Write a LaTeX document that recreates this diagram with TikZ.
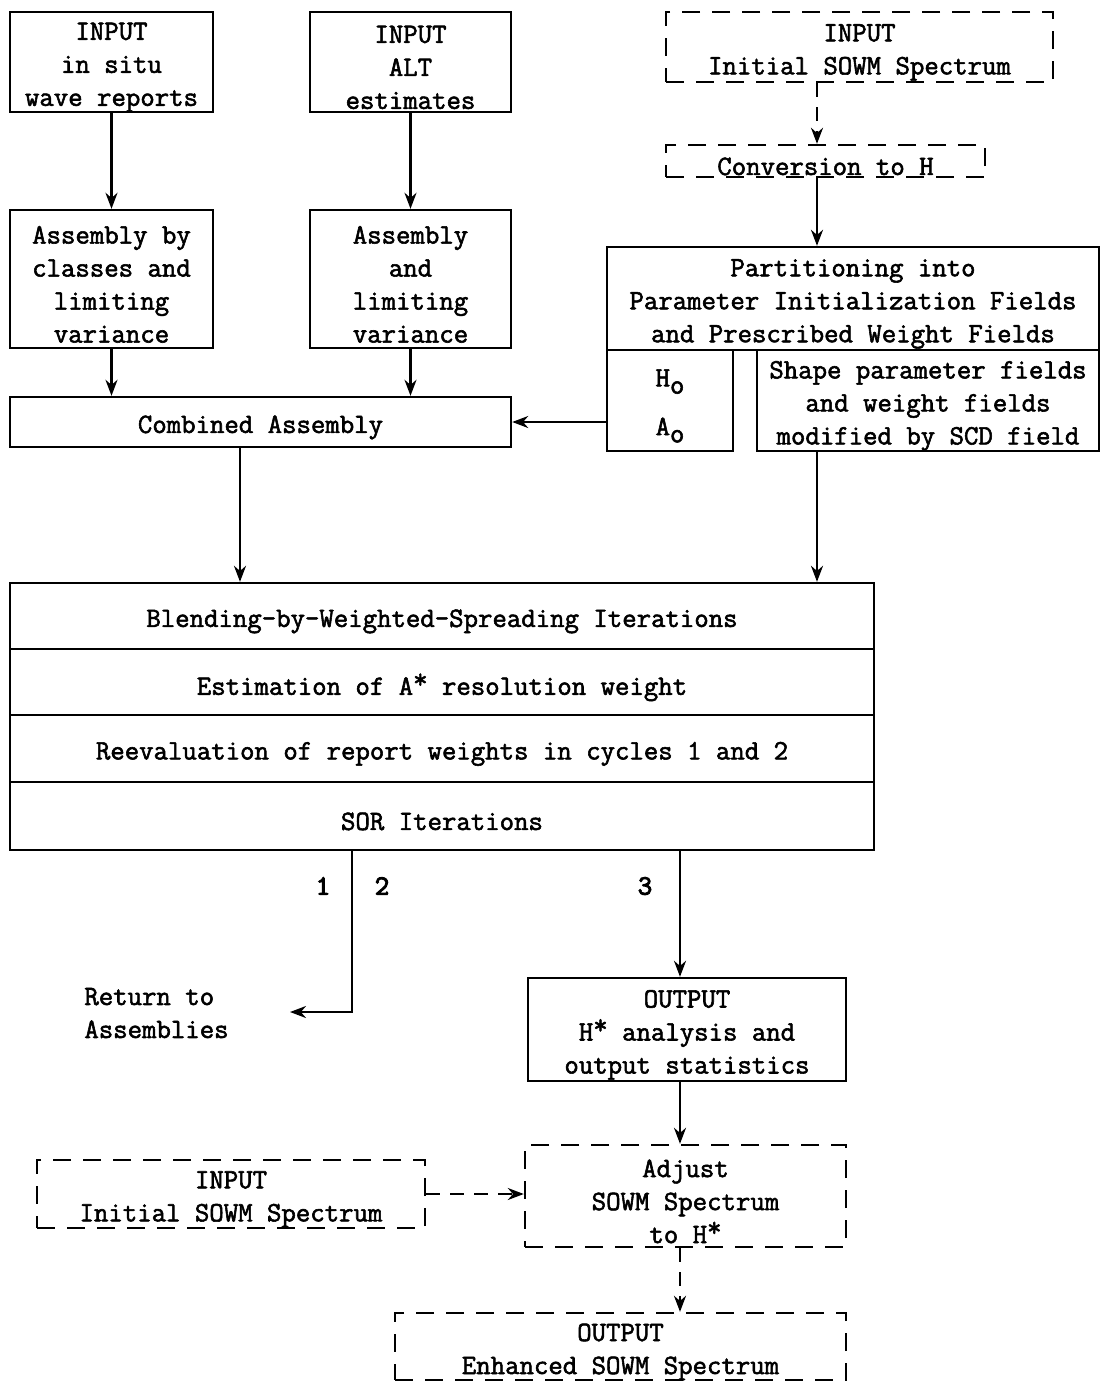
\documentclass[tikz,border=0pt]{standalone}
\usepackage{fontspec}
\setmainfont{Latin Modern Mono}[FakeBold=2]
\newfontfamily\numfont{Latin Modern Mono}[FakeBold=3.5]
\usetikzlibrary{arrows.meta}
\newcommand{\st}{\raisebox{0.55ex}{*}}
\tikzset{
  box/.style={draw, line width=1.2pt, inner sep=0pt},
  dbox/.style={box, dash pattern=on 9pt off 6pt},
  txt/.style={inner sep=0pt, align=center, yshift=-2.7pt, font=\fontsize{14}{16.5}\selectfont},
  arr/.style={line width=1.2pt, -{Stealth[length=8pt,width=6pt]}},
  darr/.style={arr, dash pattern=on 7pt off 5pt},
  plain/.style={inner sep=0pt, font=\fontsize{14}{16.5}\selectfont},
  num/.style={inner sep=0pt, font=\fontsize{14}{15}\numfont},
  sz/.style 2 args={minimum width=#1*0.5pt, minimum height=#2*0.5pt}
}
\begin{document}
\begin{tikzpicture}[x=0.5pt,y=-0.5pt]
\useasboundingbox (0,0) rectangle (1101,1383);
\fill[white] (0,0) rectangle (1101,1383);
% inputs
\node[box, sz={203}{100}, label={[txt]center:{INPUT\\in situ\\wave reports}}] (ina) at (111.5,62) {};
\node[box, sz={201}{100}, label={[txt]center:{INPUT\\ALT\\estimates}}] (inb) at (410.5,62) {};
\node[dbox, sz={387}{70}, label={[txt]center:{INPUT\\Initial SOWM Spectrum}}] (inc) at (859.5,47) {};
\node[dbox, sz={319}{32}, label={[txt]center:{Conversion to H}}] (conv) at (825.5,161) {};
\coordinate (xr) at (817,0);
% assemblies
\node[box, sz={203}{138}, label={[txt]center:{Assembly by\\classes and\\limiting\\variance}}] (asa) at (111.5,279) {};
\node[box, sz={201}{138}, label={[txt]center:{Assembly\\and\\limiting\\variance}}] (asb) at (410.5,279) {};
\node[box, sz={501}{50}, label={[txt]center:{Combined Assembly}}] (comb) at (260.5,422) {};
% partition
\node[box, sz={492}{103}, label={[txt]center:{Partitioning into\\Parameter Initialization Fields\\and Prescribed Weight Fields}}] (part) at (853,298.5) {};
\node[box, sz={126}{101}, label={[txt]center:{H\raisebox{-0.6ex}{o}\\[1.3ex]A\raisebox{-0.6ex}{o}}}] (ha) at (670,400.5) {};
\node[box, sz={342}{101}, label={[txt]center:{Shape parameter fields\\and weight fields\\modified by SCD field}}] (shape) at (928,400.5) {};
% big box
\node[box, sz={864}{66}, label={[txt]center:{Blending-by-Weighted-Spreading Iterations}}] (r1) at (442,616) {};
\node[box, sz={864}{66}, label={[txt]center:{Estimation of A\st{} resolution weight}}] (r2) at (442,682) {};
\node[box, sz={864}{67}, label={[txt]center:{Reevaluation of report weights in cycles 1 and 2}}] (r3) at (442,748.5) {};
\node[box, sz={864}{68}, label={[txt]center:{SOR Iterations}}] (r4) at (442,816) {};
% outputs
\node[plain, anchor=west, align=left] (ret) at (84,1013) {Return to\\Assemblies};
\coordinate (retend) at (290,1012);
\coordinate (x1) at (352,0);
\coordinate (x3) at (680,0);
\node[num] (n1) at (323,886) {1};
\node[num] (n2) at (382,886) {2};
\node[num] (n3) at (645,886) {3};
\node[box, sz={318}{103}, label={[txt]center:{OUTPUT\\H\st{} analysis and\\output statistics}}] (out) at (687,1029.5) {};
\node[dbox, sz={321}{102}, label={[txt]center:{Adjust\\SOWM Spectrum\\to H\st}}] (adj) at (685.5,1196) {};
\node[dbox, sz={388}{68}, label={[txt]center:{INPUT\\Initial SOWM Spectrum}}] (in2) at (231,1194) {};
\node[dbox, sz={451}{67}, label={[txt]center:{OUTPUT\\Enhanced SOWM Spectrum}}] (enh) at (620.5,1346.5) {};
% connectors
\draw[arr] (ina) -- (asa);
\draw[arr] (inb) -- (asb);
\draw[arr] (asa.south) -- (asa.south |- comb.north);
\draw[arr] (asb.south) -- (asb.south |- comb.north);
\draw[darr] (inc.south -| xr) -- (conv.north -| xr);
\draw[arr] (conv.south -| xr) -- (part.north -| xr);
\draw[arr] (ha.west |- comb.east) -- (comb.east);
\draw[arr] (comb.south -| 240,0) -- (r1.north -| 240,0);
\draw[arr] (shape.south -| xr) -- (r1.north -| xr);
\draw[arr] (r4.south -| x1) -- (x1 |- retend) -- (retend);
\draw[arr] (r4.south -| x3) -- (out.north -| x3);
\draw[arr] (out.south -| x3) -- (adj.north -| x3);
\draw[darr] (in2.east) -- (adj.west |- in2.east);
\draw[darr] (adj.south -| x3) -- (enh.north -| x3);
\end{tikzpicture}
\end{document}
